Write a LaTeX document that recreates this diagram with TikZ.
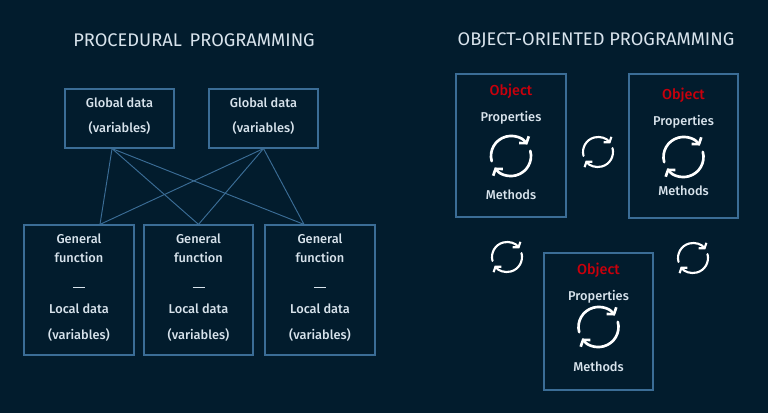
\documentclass[tikz,border=0pt]{standalone}
\usepackage{fontspec}
\setmainfont{Fira Sans Medium}
\newfontfamily\headfont{Fira Sans}
\usetikzlibrary{arrows.meta}
\definecolor{bgnavy}{HTML}{021C2D}
\definecolor{boxblue}{HTML}{3B6D96}
\definecolor{txtgrey}{HTML}{D8E3EC}
\definecolor{objred}{HTML}{C8000C}

\begin{document}
\begin{tikzpicture}[x=0.75pt,y=-0.75pt,
  databox/.style={draw=boxblue,line width=0.9pt,inner sep=0pt},
  txt/.style={text=txtgrey,font=\fontsize{9.6}{12}\selectfont,inner sep=0pt},
  head/.style={text=txtgrey,font=\headfont\fontsize{13.7}{16}\selectfont,inner sep=0pt},
  objtxt/.style={text=objred,font=\fontsize{10.8}{13}\selectfont,inner sep=0pt},
  link/.style={draw=boxblue,line width=0.7pt},
  cyc/.style={draw=white,line cap=round,-{Straight Barb[length=0pt 1.6,width=0pt 4.4]}},
  pics/arrowcycle/.style={code={
    \draw[cyc] (-195:#1) arc[start angle=-195,end angle=-35,radius=#1];
    \draw[cyc] (-15:#1) arc[start angle=-15,end angle=145,radius=#1];
  }}]
  \fill[bgnavy] (0,0) rectangle (768,413);
  \useasboundingbox (0,0) rectangle (768,413);

  % procedural side
  \node[head] (ptitle) at (194,40) {PROCEDURAL\, PROGRAMMING};
  \node[databox,minimum width=81.75pt,minimum height=44.25pt] (gd1) at (119.5,118.5) {};
  \node[databox,minimum width=81.75pt,minimum height=44.25pt] (gd2) at (263.5,118.5) {};
  \node[txt] (gd1a) at (119.5,103) {Global data};
  \node[txt] (gd1b) at (119.5,128) {(variables)};
  \node[txt] (gd2a) at (263.5,103) {Global data};
  \node[txt] (gd2b) at (263.5,128) {(variables)};

  \node[databox,minimum width=82.5pt,minimum height=97.5pt] (fn1) at (79,290) {};
  \node[databox,minimum width=81.75pt,minimum height=97.5pt] (fn2) at (198.5,290) {};
  \node[databox,minimum width=82.5pt,minimum height=97.5pt] (fn3) at (320,290) {};
  \foreach \i/\x in {1/79,2/198.5,3/320} {
    \node[txt] (fn\i a) at (\x,239) {General};
    \node[txt] (fn\i b) at (\x,257) {function};
    \node[txt] (fn\i c) at (\x,287.5) {\rule{9pt}{1.1pt}};
    \node[txt] (fn\i d) at (\x,309) {Local data};
    \node[txt] (fn\i e) at (\x,335) {(variables)};
  }

  \draw[link] ([xshift=-5.6pt]gd1.south) -- ([xshift=15.75pt]fn1.north);
  \draw[link] ([xshift=-5.6pt]gd1.south) -- (fn2.north);
  \draw[link] ([xshift=-5.6pt]gd1.south) -- ([xshift=-12pt]fn3.north);
  \draw[link] (gd2.south) -- ([xshift=15.75pt]fn1.north);
  \draw[link] (gd2.south) -- (fn2.north);
  \draw[link] (gd2.south) -- ([xshift=-12pt]fn3.north);

  % object-oriented side
  \node[head] (otitle) at (596,40) {OBJECT-ORIENTED PROGRAMMING};
  \node[databox,minimum width=82.5pt,minimum height=107.25pt] (ob1) at (511,145.5) {};
  \node[databox,minimum width=81.75pt,minimum height=108pt] (ob2) at (683.5,146) {};
  \node[databox,minimum width=81.75pt,minimum height=102.75pt] (ob3) at (598.5,321.5) {};
  \foreach \i/\x/\ya/\yb/\yc/\yd in {1/511/91/118/156/195,2/683.5/95/122/157/191,3/598.5/270/297/327/367} {
    \node[objtxt] (ob\i a) at (\x,\ya) {Object};
    \node[txt] (ob\i b) at (\x,\yb) {Properties};
    \pic[line width=2pt] at (\x,\yc) {arrowcycle=20};
    \node[txt] (ob\i d) at (\x,\yd) {Methods};
  }
  \pic[line width=1.6pt] at (598,152) {arrowcycle=15};
  \pic[line width=1.6pt] at (507,257) {arrowcycle=15};
  \pic[line width=1.6pt] at (693,258) {arrowcycle=15};
\end{tikzpicture}
\end{document}
